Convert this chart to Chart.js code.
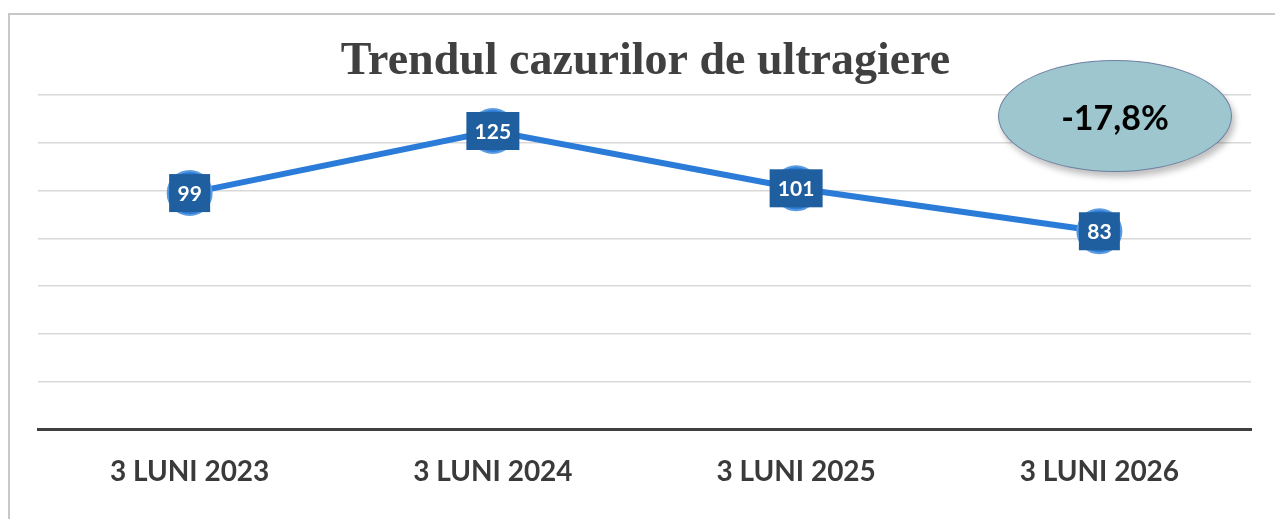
<!DOCTYPE html>
<html lang="ro">
<head>
    <meta charset="UTF-8">
    <title>Trendul cazurilor de ultragiere</title>
    <script src="https://cdn.jsdelivr.net/npm/chart.js"></script>
    <style>
        html, body { margin: 0; padding: 0; background: #fff; }
        .wrap { position: relative; width: 1275px; height: 519px; overflow: hidden; }
        .frame {
            position: absolute; left: 8px; top: 13px; width: 1280px; height: 520px;
            border-left: 2px solid #c8c8c8; border-top: 2px solid #c8c8c8;
        }
        canvas { position: absolute; left: 0; top: 0; }
        .bubble {
            position: absolute; left: 998px; top: 60px; width: 232px; height: 110px;
            border-radius: 50%; background: #9ec6ce; border: 1.5px solid #6e80a4;
            box-shadow: 3px 5px 6px rgba(0,0,0,0.25);
            display: flex; align-items: center; justify-content: center;
            font-family: Lato, sans-serif; font-weight: bold; font-size: 34px; color: #000;
        }
    </style>
</head>
<body>
    <div class="wrap">
        <div class="frame"></div>
        <canvas id="chart" width="1275" height="519"></canvas>
        <div class="bubble">-17,8%</div>
    </div>

    <script>
        const labels = ['3 LUNI 2023', '3 LUNI 2024', '3 LUNI 2025', '3 LUNI 2026'];
        const cazuri = [99, 125, 101, 83];

        // casuta albastra cu valoarea peste fiecare punct
        const valueBoxes = {
            id: 'valueBoxes',
            afterDatasetsDraw(chart) {
                const ctx = chart.ctx;
                const meta = chart.getDatasetMeta(0);
                ctx.save();
                ctx.font = 'bold 21px Lato, sans-serif';
                ctx.textAlign = 'center';
                ctx.textBaseline = 'middle';
                meta.data.forEach((pt, i) => {
                    const txt = String(cazuri[i]);
                    const w = txt.length > 2 ? 53 : 41;
                    ctx.fillStyle = '#1f5f9f';
                    ctx.fillRect(pt.x - w / 2, pt.y - 19, w, 38);
                    ctx.fillStyle = '#ffffff';
                    ctx.fillText(txt, pt.x, pt.y + 1);
                });
                ctx.restore();
            }
        };

        new Chart(document.getElementById('chart'), {
            type: 'line',
            data: {
                labels: labels,
                datasets: [{
                    data: cazuri,
                    borderColor: '#2b7bd8',
                    borderWidth: 6,
                    pointRadius: 22,
                    pointBackgroundColor: '#2e7cd6',
                    pointBorderColor: '#5b9be0',
                    pointBorderWidth: 2,
                    tension: 0
                }]
            },
            options: {
                responsive: false,
                animation: false,
                layout: { padding: { left: 38, right: 22, top: 0, bottom: 12 } },
                plugins: {
                    legend: { display: false },
                    tooltip: { enabled: false },
                    title: {
                        display: true,
                        text: 'Trendul cazurilor de ultragiere',
                        color: '#404040',
                        font: { family: '"Liberation Serif", serif', size: 46, weight: 'bold' },
                        padding: { top: 35, bottom: 5 }
                    }
                },
                scales: {
                    x: {
                        offset: true,
                        grid: { display: false },
                        border: { color: '#404040', width: 3 },
                        ticks: {
                            color: '#3a3a3a',
                            padding: 18,
                            font: { family: 'Lato, sans-serif', size: 28, weight: 'bold' }
                        }
                    },
                    y: {
                        min: 0, max: 140,
                        ticks: { display: false, stepSize: 20 },
                        border: { display: false },
                        grid: { color: '#d9d9d9', lineWidth: 1.5, drawTicks: false }
                    }
                }
            },
            plugins: [valueBoxes]
        });
    </script>
</body>
</html>
